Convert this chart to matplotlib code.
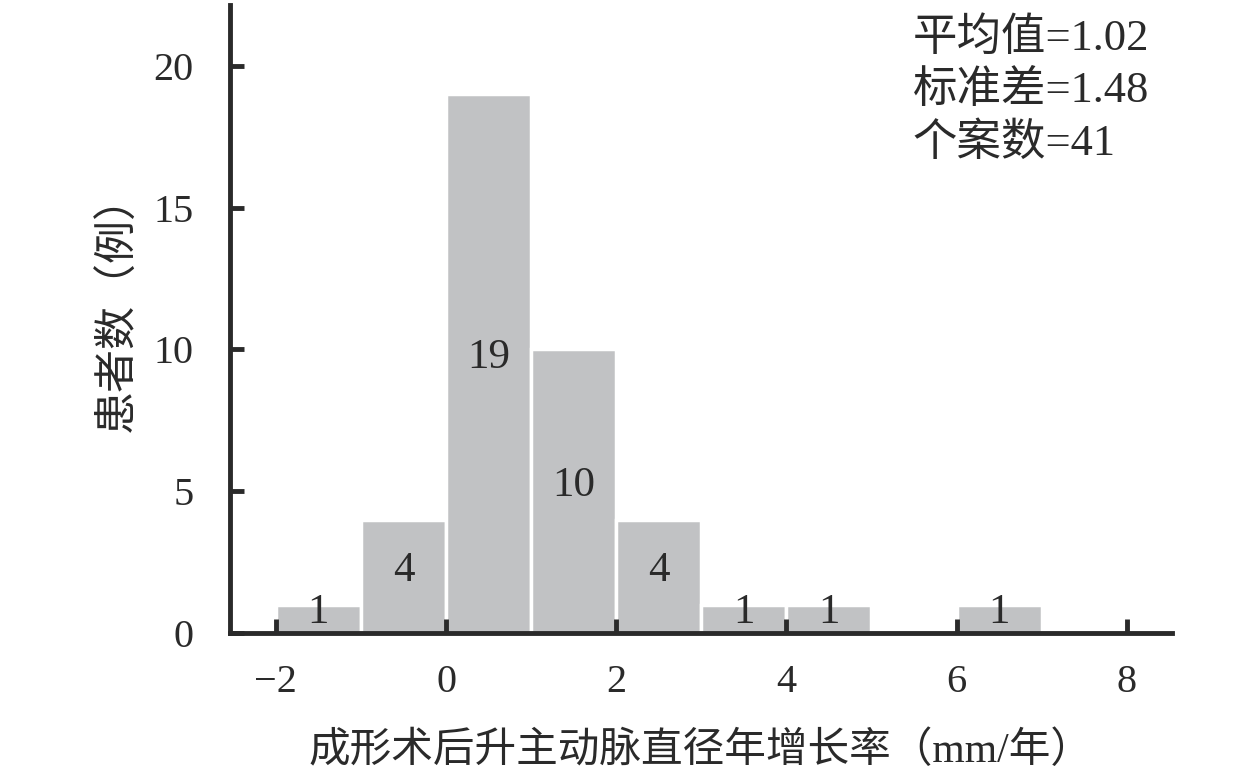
import matplotlib
matplotlib.use('Agg')
import matplotlib.pyplot as plt
import numpy as np

# histogram data
bin_edges = [-2, -1, 0, 1, 2, 3, 4, 5, 6, 7]
counts = [1, 4, 19, 10, 4, 1, 1, 0, 1]
x_ticks = [-2, 0, 2, 4, 6, 8]
y_ticks = [0, 5, 10, 15, 20]
x_label = '成形术后升主动脉直径年增长率（mm/年）'
y_label = '患者数（例）'
stats_lines = ['平均值=1.02', '标准差=1.48', '个案数=41']

FONTS = ['Liberation Serif', 'Noto Sans CJK SC', 'DejaVu Sans']
plt.rcParams['font.family'] = FONTS
plt.rcParams['axes.unicode_minus'] = False

ink = '#2a2a2a'
bar_color = '#c1c2c4'

fig = plt.figure(figsize=(12.6, 7.8), dpi=100)
ax = fig.add_axes([0.1825, 0.1885, 0.7475, 0.805])
ax.set_axisbelow(False)

lefts = np.array(bin_edges[:-1])
widths = np.diff(bin_edges)
ax.bar(lefts, counts, width=widths, align='edge', color=bar_color,
       edgecolor='white', linewidth=2.5, zorder=2)

for left, w, c in zip(lefts, widths, counts):
    if c > 0:
        ax.text(left + w / 2, c / 2 + 0.2, str(c), ha='center', va='center',
                fontsize=31, color=ink, zorder=3)

ax.set_xlim(-2.54, 8.53)
ax.set_ylim(0, 22.15)
ax.set_xticks(x_ticks)
ax.set_xticklabels(['\u22122' if t == -2 else str(t) for t in x_ticks])
ax.set_yticks(y_ticks)

for side in ['top', 'right']:
    ax.spines[side].set_visible(False)
for side in ['left', 'bottom']:
    ax.spines[side].set_linewidth(3.5)
    ax.spines[side].set_color(ink)
    ax.spines[side].set_zorder(4)

ax.tick_params(axis='both', direction='in', length=10, width=3.5,
               color=ink, labelsize=29, labelcolor=ink)
ax.tick_params(axis='x', pad=22)
ax.tick_params(axis='y', pad=26)

ax.set_xlabel(x_label, fontsize=30, color=ink, labelpad=22)
ax.set_ylabel(y_label, fontsize=31, color=ink)
ax.yaxis.set_label_coords(-0.097, 0.525)

ax.text(0.725, 0.980, '\n'.join(stats_lines), transform=ax.transAxes,
        ha='left', va='top', fontsize=32, color=ink, linespacing=1.33)

fig.savefig('out.png', dpi=100)
